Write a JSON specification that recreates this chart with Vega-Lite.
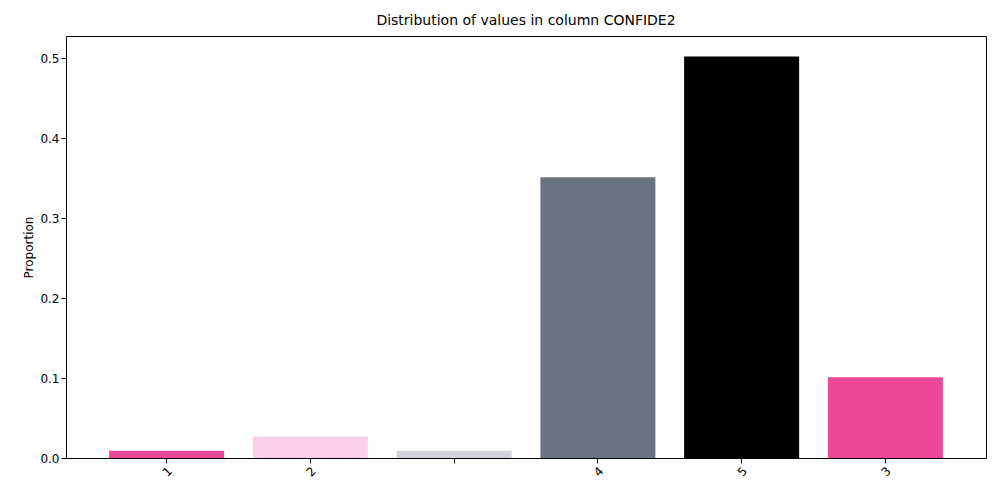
{
  "$schema": "https://vega.github.io/schema/vega-lite/v6.json",
  "width": 920,
  "height": 422,
  "padding": {"left": 22, "top": 14, "right": 5, "bottom": 5},
  "title": {"text": "Distribution of values in column CONFIDE2", "font": "DejaVu Sans", "fontSize": 14, "fontWeight": "normal", "offset": 8},
  "config": {"font": "DejaVu Sans", "view": {"stroke": "black"}},
  "data": {"values": [
    {"k": "1", "v": 0.009, "c": "#ec4899"},
    {"k": "2", "v": 0.027, "c": "#fbcfe8"},
    {"k": " ", "v": 0.009, "c": "#d1d5db"},
    {"k": "4", "v": 0.351, "c": "#6b7280"},
    {"k": "5", "v": 0.502, "c": "#000000"},
    {"k": "3", "v": 0.101, "c": "#ec4899"}
  ]},
  "mark": {"type": "bar"},
  "encoding": {
    "x": {"field": "k", "type": "nominal", "sort": null, "title": null,
      "scale": {"paddingInner": 0.2, "paddingOuter": 0.3},
      "axis": {"labelAngle": -45, "labelAlign": "right", "labelBaseline": "top", "labelFontSize": 12, "labelColor": "black", "domain": false, "tickColor": "black", "grid": false}},
    "y": {"field": "v", "type": "quantitative", "title": "Proportion",
      "scale": {"domain": [0, 0.5275], "nice": false},
      "axis": {"values": [0, 0.1, 0.2, 0.3, 0.4, 0.5], "format": ".1f", "grid": false, "domain": false, "labelFontSize": 12, "labelColor": "black", "tickColor": "black", "titleFontSize": 12, "titleFontWeight": "normal"}},
    "color": {"field": "c", "type": "nominal", "scale": null}
  }
}
